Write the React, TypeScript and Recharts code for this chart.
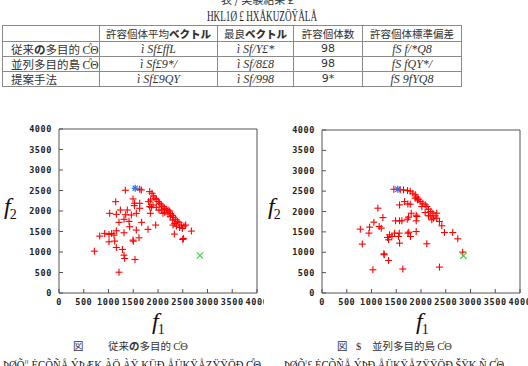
import React from "react";
import { ScatterChart, Scatter, XAxis, YAxis } from "recharts";

// 目的関数空間の目盛
const TICKS = [0, 500, 1000, 1500, 2000, 2500, 3000, 3500, 4000];

// 従来の多目的GA: 最終世代の個体 (f1, f2)
const conventionalPop: [number, number][] = [
  [1340, 2506], [1630, 2531], [1663, 2514], [1495, 2294], [1529, 2188], [1630, 2188],
  [1522, 2131], [1630, 2066], [1145, 2228], [1024, 1943], [1240, 2025], [1159, 1919],
  [1380, 2024], [1347, 1910], [1313, 1797], [1414, 1747], [1212, 1723], [1462, 1902],
  [1562, 1943], [1670, 1723], [1428, 1616], [1562, 1535], [1158, 1518], [1313, 1469],
  [822, 1388], [923, 1454], [1010, 1429], [1064, 1453], [1111, 1412], [1010, 1249],
  [1125, 1266], [1158, 1110], [1495, 1290], [1502, 1265], [1616, 1346], [1281, 1062],
  [1313, 923], [1327, 842], [1535, 818], [1798, 1552], [1953, 1657], [2330, 1437],
  [2513, 1331], [2500, 1306], [2674, 1510], [715, 1021], [1212, 507],
  [1832, 2473], [1879, 2433], [1906, 2367], [1939, 2310], [1966, 2286], [2007, 2229],
  [2034, 2188], [2067, 2147], [2101, 2106], [2135, 2065], [2168, 2041], [2202, 2024],
  [2236, 2000], [2256, 1943], [2290, 1894], [2317, 1845], [2357, 1796], [2391, 1747],
  [2424, 1714], [2471, 1657], [2525, 1633], [2559, 1657], [2492, 1576], [2438, 1600],
  [1852, 2269], [1899, 2147], [1866, 2090], [1845, 1943], [1966, 2090], [2020, 2024],
  [2067, 2024], [2101, 1943], [2135, 1967], [2202, 1926], [2249, 1861], [2296, 1780],
  [2337, 1698], [2371, 1633], [2303, 1657], [1832, 2106], [1811, 2229],
];

// 並列多目的島GA: 最終世代の個体 (f1, f2)
const islandPop: [number, number][] = [
  [1452, 2546], [1580, 2531], [1647, 2531], [1728, 2514], [1782, 2498], [1835, 2449],
  [1883, 2408], [1916, 2351], [1950, 2302], [1983, 2245], [2037, 2204], [2084, 2163],
  [2118, 2122], [2151, 2057], [2198, 2000], [2239, 1959], [2286, 1894], [2319, 1837],
  [2373, 1755], [2420, 1649], [1883, 2326], [1930, 2286], [2017, 2122], [2084, 1975],
  [2185, 1894], [2252, 1837], [2218, 1796], [2151, 1894], [2319, 1959], [2474, 1484],
  [2641, 1484], [2742, 1329], [2843, 1003],
  [1567, 2162], [1667, 2243], [1734, 2186], [1782, 2180], [1802, 1958], [1129, 2081],
  [1230, 1851], [1048, 1738], [1156, 1633], [1197, 1591], [774, 1567], [961, 1616],
  [948, 1469], [814, 1200], [1486, 1770], [1567, 1770], [1614, 1771], [1722, 1811],
  [1748, 1861], [1903, 1910], [1916, 1878], [1903, 1771], [1903, 1508], [1754, 1493],
  [1735, 1469], [1788, 1386], [1560, 1469], [1547, 1388], [1466, 1469], [1412, 1388],
  [1365, 1427], [1324, 1363], [1345, 1306], [1567, 1224], [1250, 962], [1257, 939],
  [1345, 798], [1028, 570], [1633, 588], [2373, 636], [2117, 1207],
];

// 最良ベクトル (青) と参照点 (緑)
const conventionalBest: [number, number][] = [[1540, 2555]];
const islandBest: [number, number][] = [[1532, 2546]];
const conventionalRef: [number, number][] = [[2848, 915]];
const islandRef: [number, number][] = [[2857, 913]];

const TABLE_HEAD = ["", "許容個体平均", "最良", "許容個体数", "許容個体標準偏差"];
const TABLE_ROWS = [
  ["ì Sf£ffL", "ì Sf/Y£*", "98", "fS f/*Q8"],
  ["ì Sf£9*/", "ì Sf/8£8", "98", "fS fQY*/"],
  ["ì Sf£9QY", "ì Sf/998", "9*", "fS 9fYQ8"],
];
const COL_W = [97, 118, 76, 69, 99];

const toPts = (a: [number, number][]) => a.map(([x, y]) => ({ x, y }));

const AXIS_COLOR = "#555";
const TICK_STYLE = {
  fontSize: 8.5,
  fontFamily: "'DejaVu Sans Mono', monospace",
  fontWeight: "bold",
  fill: "#222",
  letterSpacing: 0.6,
};
const JP = "'Noto Sans CJK JP', sans-serif";
const SERIF = "'Liberation Serif', 'DejaVu Serif', serif";

function PlusMark(props: any) {
  const { cx, cy } = props;
  if (cx == null || cy == null) return <g />;
  const r = 3.5;
  return (
    <g stroke="#ff0000" strokeWidth={1.1}>
      <line x1={cx - r} y1={cy} x2={cx + r} y2={cy} />
      <line x1={cx} y1={cy - r} x2={cx} y2={cy + r} />
    </g>
  );
}

function CrossMark(props: any) {
  const { cx, cy } = props;
  if (cx == null || cy == null) return <g />;
  const r = 3.2;
  return (
    <g stroke="#44c844" strokeWidth={1.1}>
      <line x1={cx - r} y1={cy - r} x2={cx + r} y2={cy + r} />
      <line x1={cx - r} y1={cy + r} x2={cx + r} y2={cy - r} />
    </g>
  );
}

function StarMark(props: any) {
  const { cx, cy } = props;
  if (cx == null || cy == null) return <g />;
  const r = 3.5;
  const d = 2.6;
  return (
    <g stroke="#2a6ae0" strokeWidth={1.2}>
      <line x1={cx - r} y1={cy} x2={cx + r} y2={cy} />
      <line x1={cx} y1={cy - r} x2={cx} y2={cy + r} />
      <line x1={cx - d} y1={cy - d} x2={cx + d} y2={cy + d} />
      <line x1={cx - d} y1={cy + d} x2={cx + d} y2={cy - d} />
    </g>
  );
}

interface PanelProps {
  left: number;
  yAxisWidth: number;
  topMargin: number;
  population: [number, number][];
  best: [number, number][];
  reference: [number, number][];
}

function Panel({ left, yAxisWidth, topMargin, population, best, reference }: PanelProps) {
  const axisCommon = {
    type: "number" as const,
    domain: [0, 4000],
    ticks: TICKS,
    allowDataOverflow: true,
    stroke: AXIS_COLOR,
    tickSize: -4,
    interval: 0 as const,
  };
  // 上辺・右辺の軸は枠線と内向きの目盛だけを描く (幅 1px)
  return (
    <div style={{ position: "absolute", left, top: 110 }}>
      <ScatterChart
        width={264}
        height={200}
        margin={{ top: topMargin - 1, right: 264 - yAxisWidth - 198 - 1, bottom: 0, left: 0 }}
      >
        <XAxis {...axisCommon} xAxisId="b" dataKey="x" height={17} tickMargin={10} tick={TICK_STYLE} />
        <XAxis {...axisCommon} xAxisId="t" orientation="top" height={1} tick={false} />
        <YAxis {...axisCommon} yAxisId="l" dataKey="y" width={yAxisWidth} tickMargin={11} tick={TICK_STYLE} />
        <YAxis {...axisCommon} yAxisId="r" orientation="right" width={1} tick={false} />
        <Scatter xAxisId="b" yAxisId="l" data={toPts(population)} shape={<PlusMark />} isAnimationActive={false} />
        <Scatter xAxisId="b" yAxisId="l" data={toPts(reference)} shape={<CrossMark />} isAnimationActive={false} />
        <Scatter xAxisId="b" yAxisId="l" data={toPts(best)} shape={<StarMark />} isAnimationActive={false} />
      </ScatterChart>
    </div>
  );
}

function AxisName({ x, y, sub }: { x: number; y: number; sub: string }) {
  return (
    <text x={x} y={y} fontFamily={SERIF} fontStyle="italic" fontSize={24} fill="#111">
      f
      <tspan fontStyle="normal" fontSize={14} dx={-1} dy={5}>
        {sub}
      </tspan>
    </text>
  );
}

export default function App() {
  const cell: React.CSSProperties = {
    border: "1px solid #8a8a8a",
    padding: 0,
    fontSize: 10.5,
    lineHeight: "12px",
    color: "#333",
    textAlign: "center",
    whiteSpace: "nowrap",
  };
  const rowH = [16, 15, 15, 15];
  const label = [
    <span>従来<b>の</b>多目的 <span style={{ fontFamily: SERIF }}>ƇΘ</span></span>,
    <span>並列多目的島 <span style={{ fontFamily: SERIF }}>ƇΘ</span></span>,
    <span>提案手法</span>,
  ];
  return (
    <div
      style={{
        position: "absolute",
        left: 0,
        top: 0,
        width: 528,
        height: 366,
        overflow: "hidden",
        background: "#fff",
        fontFamily: JP,
      }}
    >
      <table
        style={{
          position: "absolute",
          left: 2,
          top: 25,
          borderCollapse: "collapse",
          tableLayout: "fixed",
          width: COL_W.reduce((a, b) => a + b, 0),
        }}
      >
        <colgroup>
          {COL_W.map((w, i) => (
            <col key={i} style={{ width: w }} />
          ))}
        </colgroup>
        <tbody>
          <tr style={{ height: rowH[0] }}>
            {TABLE_HEAD.map((h, i) => (
              <td key={i} style={cell}>
                {h}
                {(i === 1 || i === 2) && <b style={{ fontWeight: 900 }}>ベクトル</b>}
              </td>
            ))}
          </tr>
          {TABLE_ROWS.map((row, r) => (
            <tr key={r} style={{ height: rowH[r + 1] }}>
              <td style={{ ...cell, textAlign: "left", paddingLeft: 8, fontSize: 11.5 }}>{label[r]}</td>
              {row.map((v, i) => (
                <td
                  key={i}
                  style={{
                    ...cell,
                    fontFamily: i === 2 ? "'DejaVu Sans', sans-serif" : SERIF,
                    fontStyle: i === 2 ? "normal" : "italic",
                    fontSize: i === 2 ? 11 : 12,
                  }}
                >
                  {v}
                </td>
              ))}
            </tr>
          ))}
        </tbody>
      </table>

      <Panel left={0} yAxisWidth={59} topMargin={19} population={conventionalPop} best={conventionalBest} reference={conventionalRef} />
      <Panel left={264} yAxisWidth={58} topMargin={20} population={islandPop} best={islandBest} reference={islandRef} />

      <svg width={528} height={366} style={{ position: "absolute", left: 0, top: 0, pointerEvents: "none" }}>
        <text x={221} y={4} fontFamily={JP} fontSize={11} fill="#333">
          表 / 実験結果 £
        </text>
        <text x={207} y={21} fontFamily={SERIF} fontSize={15} fill="#222" textLength={110} lengthAdjust="spacingAndGlyphs">
          HKL1Ø £  HXÅKUZÖŸÅLÅ
        </text>

        <AxisName x={4} y={214} sub="2" />
        <AxisName x={268} y={214} sub="2" />
        <AxisName x={152} y={329} sub="1" />
        <AxisName x={416} y={329} sub="1" />

        <text x={73} y={350} fontFamily={JP} fontSize={10.5} fill="#333">
          図
        </text>
        <text x={108} y={350} fontFamily={JP} fontSize={10.5} fill="#333">
          従来<tspan fontWeight="bold">の</tspan>多目的 <tspan fontFamily={SERIF}>ƇΘ</tspan>
        </text>
        <text x={337} y={350} fontFamily={JP} fontSize={10.5} fill="#333">
          図
        </text>
        <text x={356} y={350} fontFamily={SERIF} fontSize={10.5} fill="#333">
          $
        </text>
        <text x={372} y={350} fontFamily={JP} fontSize={10.5} fill="#333">
          並列多目的島 <tspan fontFamily={SERIF}>ƇΘ</tspan>
        </text>

        <text x={3} y={369} fontFamily={SERIF} fontSize={13} fill="#222" textLength={258} lengthAdjust="spacingAndGlyphs">
          ÞØÕ¦¦  ĖÇÕÑÅ ÝÞÆK  ÀÖ  ÀŸ  KÜÐ  ÅÜKŸÅZŸŸÖÐ ƇΘ
        </text>
        <text x={284} y={369} fontFamily={SERIF} fontSize={13} fill="#222" textLength={220} lengthAdjust="spacingAndGlyphs">
          ÞØÕ¦£  ĖÇÕÑÅ ÝÞÐ ÅÜKŸÅZŸŸÖÐ ŠŸK  Ñ ƇΘ
        </text>
      </svg>
    </div>
  );
}
